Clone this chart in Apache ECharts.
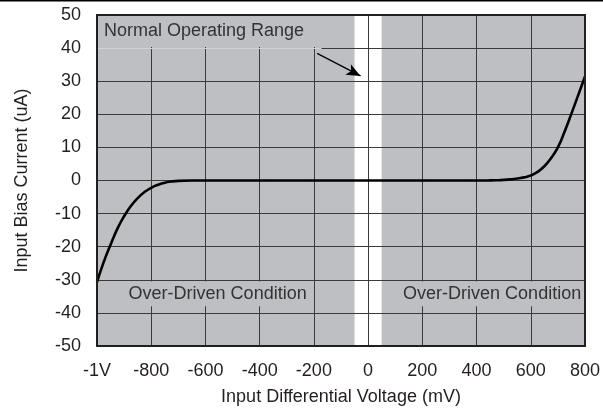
<!DOCTYPE html>
<html>
<head>
<meta charset="utf-8">
<script src="https://cdn.jsdelivr.net/npm/echarts@6/dist/echarts.min.js"></script>
<style>html,body{margin:0;padding:0;background:#fff;}#c{width:603px;height:415px;}</style>
</head>
<body>
<div id="c"></div>
<script>
// ---- data ----
const voltage = [-1000,-975,-950,-925,-900,-875,-850,-825,-800,-775,-750,-725,-700,-650,-600,-400,-200,0,200,400,450,475,500,525,550,575,600,625,650,675,700,725,750,775,800];
const current = [-30.7,-24.6,-19.4,-14.6,-10.8,-7.7,-5.3,-3.5,-2.2,-1.3,-0.65,-0.3,-0.1,0,0,0,0,0,0,0,0.03,0.08,0.18,0.35,0.6,0.95,1.5,2.6,4.3,6.8,10.0,14.8,20.2,25.8,31.4];
const xMin = -1000, xMax = 800, xStep = 200;
const yMin = -50, yMax = 50, yStep = 10;
const normalBand = [-50, 50];
const arrowFrom = [-188, 38.4];
const arrowTo = [-28, 31.6];
const normalLabel = 'Normal Operating Range';
const overLabel = 'Over-Driven Condition';
const normalBox = [[-1000, 50], [-172, 40.3]];
const overBoxLeft = [[-900, -30.5], [-210, -38]];
const overBoxRight = [[115, -30.5], [800, -38]];
const xName = 'Input Differential Voltage (mV)';
const yName = 'Input Bias Current (uA)';

const FONT = '"Liberation Sans", Arial, sans-serif';
const FS = 18;
const GRAY = '#bebfc3';
const INK = '#231f20';

const chart = echarts.init(document.getElementById('c'), null, {renderer: 'canvas'});
const frameAxisX = pos => ({type: 'value', min: xMin, max: xMax, interval: xStep, position: pos, z: 6,
  axisLine: {show: true, onZero: false, lineStyle: {color: INK, width: 2}}, axisTick: {show: false},
  axisLabel: {show: false}, splitLine: {show: false}});
const frameAxisY = pos => ({type: 'value', min: yMin, max: yMax, interval: yStep, position: pos, z: 6,
  axisLine: {show: true, onZero: false, lineStyle: {color: INK, width: 2}}, axisTick: {show: false},
  axisLabel: {show: false}, splitLine: {show: false}});

chart.setOption({
  animation: false,
  backgroundColor: '#fff',
  grid: {left: 97, right: 17, top: 15, bottom: 69, containLabel: false},
  graphic: [{type: 'rect', left: 0, top: 0, shape: {width: 603, height: 1.5}, style: {fill: '#000'}}],
  xAxis: [
    {type: 'value', min: xMin, max: xMax, interval: xStep, position: 'bottom', z: 2,
     name: xName, nameLocation: 'middle', nameGap: 42,
     nameTextStyle: {fontFamily: FONT, fontSize: FS, color: INK},
     axisLine: {show: false}, axisTick: {show: false},
     axisLabel: {fontFamily: FONT, fontSize: FS, color: INK, margin: 16,
       formatter: v => v === -1000 ? '-1V' : String(v)},
     splitLine: {show: true, lineStyle: {color: '#3a3a3a', width: 1}}},
    frameAxisX('top'), frameAxisX('bottom')
  ],
  yAxis: [
    {type: 'value', min: yMin, max: yMax, interval: yStep, position: 'left', z: 2,
     name: yName, nameLocation: 'middle', nameGap: 66, nameRotate: 90,
     nameTextStyle: {fontFamily: FONT, fontSize: FS, color: INK},
     axisLine: {show: false}, axisTick: {show: false},
     axisLabel: {fontFamily: FONT, fontSize: FS, color: INK, margin: 16},
     splitLine: {show: true, lineStyle: {color: '#3a3a3a', width: 1}}},
    frameAxisY('left'), frameAxisY('right')
  ],
  series: [
    {type: 'line', data: [], silent: true, z: 1,
     markArea: {silent: true, z: 1, itemStyle: {color: GRAY}, label: {show: false},
       data: [[{xAxis: xMin}, {xAxis: normalBand[0]}], [{xAxis: normalBand[1]}, {xAxis: xMax}]]}},
    {type: 'line', data: [], silent: true, z: 3,
     markArea: {silent: true, z: 3,
       label: {show: true, fontFamily: FONT, fontSize: FS, color: '#333'},
       data: [
         [{coord: normalBox[0], itemStyle: {color: GRAY},
           label: {position: 'insideLeft', distance: 7, formatter: normalLabel}}, {coord: normalBox[1]}],
         [{coord: overBoxLeft[0], itemStyle: {color: GRAY},
           label: {position: 'inside', formatter: overLabel}}, {coord: overBoxLeft[1]}],
         [{coord: overBoxRight[0], itemStyle: {color: GRAY},
           label: {position: 'inside', formatter: overLabel}}, {coord: overBoxRight[1]}]
       ]},
     markLine: {silent: true, z: 3, symbol: ['none', 'none'], label: {show: false},
       lineStyle: {color: '#d0d1d4', width: 1, type: 'solid'},
       data: [[{coord: [normalBox[0][0], 40]}, {coord: [normalBox[1][0], 40]}]]}},
    {type: 'line', z: 4, data: voltage.map((v, i) => [v, current[i]]), smooth: 0.5,
     showSymbol: false, lineStyle: {color: '#000', width: 2.6}, silent: true,
     markLine: {silent: true, z: 4, symbol: ['none', 'arrow'], symbolSize: [9, 14], label: {show: false},
       lineStyle: {color: '#000', width: 1.3, type: 'solid'},
       data: [[{coord: arrowFrom}, {coord: arrowTo}]]}}
  ]
});
</script>
</body>
</html>
